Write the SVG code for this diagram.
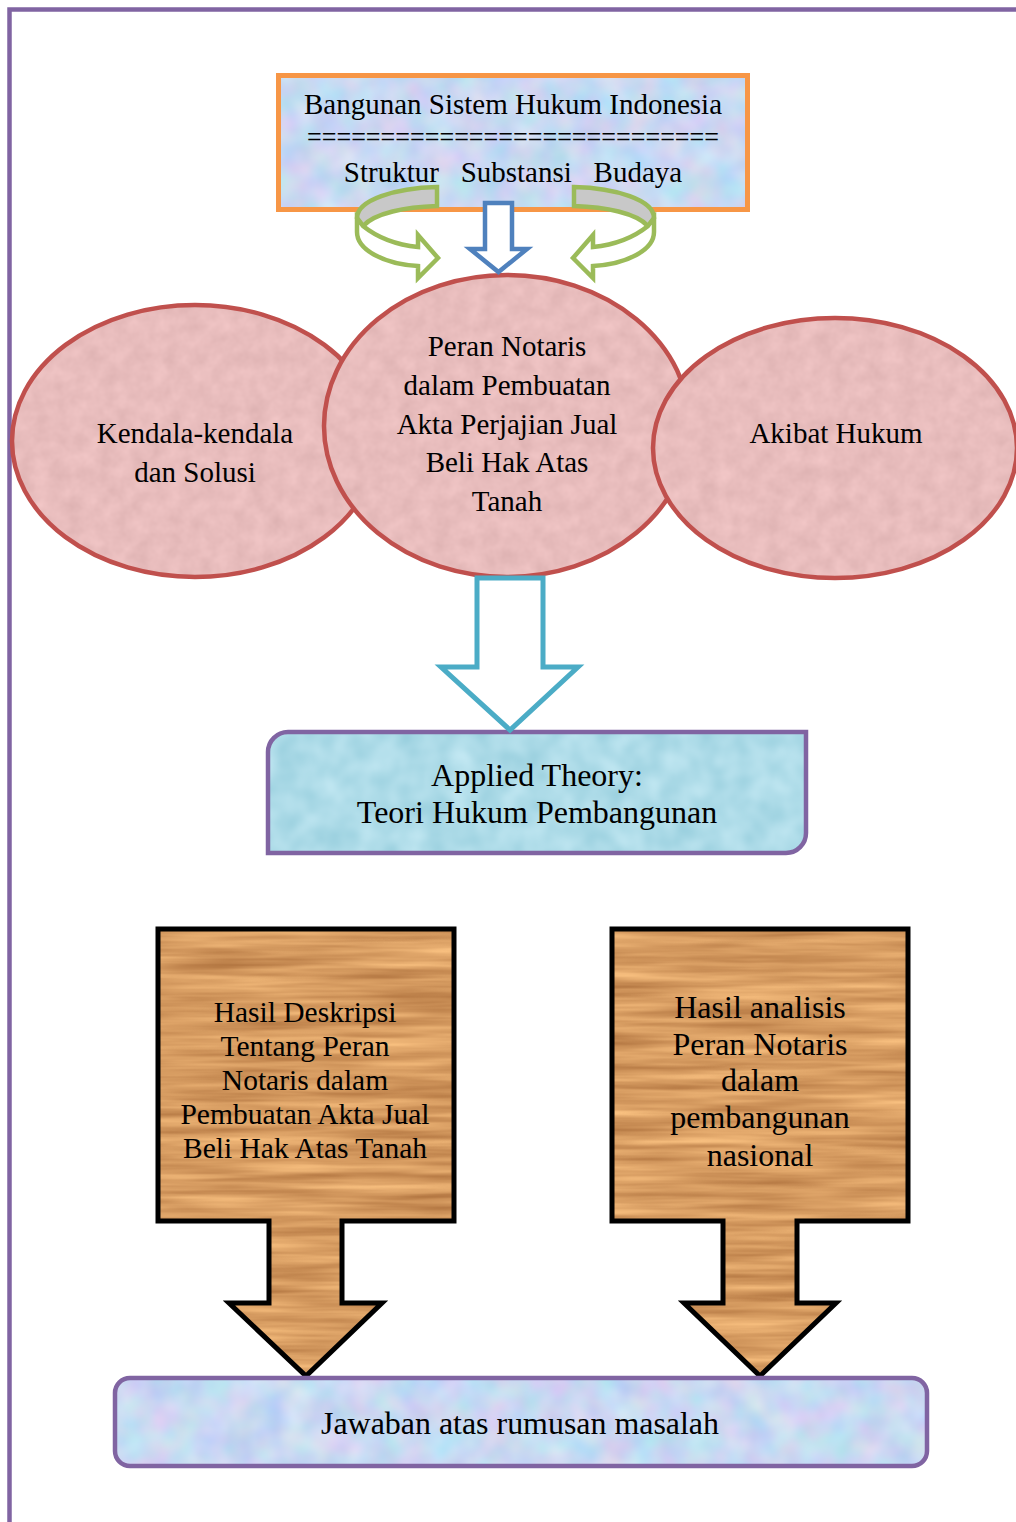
<svg xmlns="http://www.w3.org/2000/svg" width="1016" height="1522" viewBox="0 0 1016 1522">
<defs>
<style>
text{font-family:"Liberation Serif","Times New Roman",serif;fill:#000;text-anchor:middle}
.pink{stroke:#C0504D;stroke-width:4.5}
.wood{stroke:#000;stroke-width:5;stroke-linejoin:miter}
.purple{stroke:#8064A2;stroke-width:4.5;fill:none}
.green{stroke:#9BBB59;stroke-width:4.5;stroke-linejoin:miter}
</style>
<filter id="woodTex" x="0" y="0" width="1" height="1" color-interpolation-filters="sRGB">
<feTurbulence type="fractalNoise" baseFrequency="0.006 0.11" numOctaves="3" seed="4"/>
<feColorMatrix type="matrix" values="0.36 0 0 0 0.66  0.38 0 0 0 0.42  0.32 0 0 0 0.22  0 0 0 0 1"/>
<feComposite in2="SourceGraphic" operator="in"/>
</filter>
<filter id="pinkTex" x="0" y="0" width="1" height="1" color-interpolation-filters="sRGB">
<feTurbulence type="fractalNoise" baseFrequency="0.06" numOctaves="3" seed="2"/>
<feColorMatrix type="matrix" values="0.09 0 0 0 0.865  0.09 0 0 0 0.695  0.09 0 0 0 0.695  0 0 0 0 1"/>
<feComposite in2="SourceGraphic" operator="in"/>
</filter>
<filter id="blueTex" x="0" y="0" width="1" height="1" color-interpolation-filters="sRGB">
<feTurbulence type="fractalNoise" baseFrequency="0.035" numOctaves="2" seed="7"/>
<feColorMatrix type="matrix" values="0.25 0 0 0 0.66  0 0.16 0 0 0.77  0 0 0.08 0 0.91  0 0 0 0 1"/>
<feComposite in2="SourceGraphic" operator="in"/>
</filter>
<filter id="waterTex" x="0" y="0" width="1" height="1" color-interpolation-filters="sRGB">
<feTurbulence type="fractalNoise" baseFrequency="0.04" numOctaves="2" seed="9"/>
<feColorMatrix type="matrix" values="0.2 0 0 0 0.58  0.12 0 0 0 0.80  0.1 0 0 0 0.86  0 0 0 0 1"/>
<feComposite in2="SourceGraphic" operator="in"/>
</filter>
</defs>

<path d="M9.5,1522 V9.5 H1016" class="purple" stroke-width="5"/>

<g id="node-bangunan">
<rect x="278.5" y="75.5" width="469" height="134" fill="#C8D8F2" filter="url(#blueTex)"/>
<rect x="278.5" y="75.5" width="469" height="134" fill="none" stroke="#F79646" stroke-width="5"/>
<text x="513" y="114" font-size="29">Bangunan Sistem Hukum Indonesia</text>
<text x="513" y="147" font-size="29" textLength="412" lengthAdjust="spacingAndGlyphs">============================</text>
<text x="513" y="182" font-size="29" xml:space="preserve">Struktur   Substansi   Budaya</text>
</g>

<g id="node-kendala">
<ellipse cx="195" cy="441" rx="183" ry="136" fill="#E8BABA" filter="url(#pinkTex)"/>
<ellipse cx="195" cy="441" rx="183" ry="136" fill="none" class="pink"/>
<text x="195" y="443" font-size="29">Kendala-kendala</text>
<text x="195" y="482" font-size="29">dan Solusi</text>
</g>

<g id="node-peran">
<ellipse cx="507" cy="426" rx="183" ry="151" fill="#E8BABA" filter="url(#pinkTex)"/>
<ellipse cx="507" cy="426" rx="183" ry="151" fill="none" class="pink"/>
<text x="507" y="356" font-size="29">Peran Notaris</text>
<text x="507" y="395" font-size="29">dalam Pembuatan</text>
<text x="507" y="434" font-size="29">Akta Perjajian Jual</text>
<text x="507" y="472" font-size="29">Beli Hak Atas</text>
<text x="507" y="511" font-size="29">Tanah</text>
</g>

<g id="node-akibat">
<ellipse cx="835" cy="448" rx="182" ry="130" fill="#E8BABA" filter="url(#pinkTex)"/>
<ellipse cx="835" cy="448" rx="182" ry="130" fill="none" class="pink"/>
<text x="836" y="443" font-size="29">Akibat Hukum</text>
</g>

<g id="node-applied">
<path d="M288,732 H806 V833 A20,20 0 0 1 786,853 H268 V752 A20,20 0 0 1 288,732 Z" fill="#AADCE8" filter="url(#waterTex)"/>
<path d="M288,732 H806 V833 A20,20 0 0 1 786,853 H268 V752 A20,20 0 0 1 288,732 Z" class="purple"/>
<text x="537" y="786" font-size="32">Applied Theory:</text>
<text x="537" y="823" font-size="32">Teori Hukum Pembangunan</text>
</g>

<g id="node-deskripsi">
<path d="M158,929 H454 V1221 H342 V1303 H382 L306,1376 L229,1303 H269 V1221 H158 Z" fill="#D49A62" filter="url(#woodTex)"/>
<path d="M158,929 H454 V1221 H342 V1303 H382 L306,1376 L229,1303 H269 V1221 H158 Z" fill="none" class="wood"/>
<text x="305" y="1022" font-size="29.5">Hasil Deskripsi</text>
<text x="305" y="1056" font-size="29.5">Tentang Peran</text>
<text x="305" y="1090" font-size="29.5">Notaris dalam</text>
<text x="305" y="1124" font-size="29.5">Pembuatan Akta Jual</text>
<text x="305" y="1158" font-size="29.5">Beli Hak Atas Tanah</text>
</g>

<g id="node-analisis">
<path d="M612,929 H908 V1221 H797 V1303 H836 L760,1376 L684,1303 H723 V1221 H612 Z" fill="#D49A62" filter="url(#woodTex)"/>
<path d="M612,929 H908 V1221 H797 V1303 H836 L760,1376 L684,1303 H723 V1221 H612 Z" fill="none" class="wood"/>
<text x="760" y="1018" font-size="32">Hasil analisis</text>
<text x="760" y="1055" font-size="32">Peran Notaris</text>
<text x="760" y="1091" font-size="32">dalam</text>
<text x="760" y="1128" font-size="32">pembangunan</text>
<text x="760" y="1166" font-size="32">nasional</text>
</g>

<g id="node-jawaban">
<rect x="115" y="1378" width="812" height="88" rx="15" fill="#C8D0F4" filter="url(#blueTex)"/>
<rect x="115" y="1378" width="812" height="88" rx="15" class="purple"/>
<text x="520" y="1434" font-size="32" textLength="398" lengthAdjust="spacingAndGlyphs">Jawaban atas rumusan masalah</text>
</g>

<g id="connectors">
<g id="curve-left">
<path d="M437,187 C395,188 357,200 357,218 L363,226 C375,213 405,207 437,206 Z" fill="#C8C8C8" class="green"/>
<path d="M357,218 L363,226 C378,238 398,245 418,247 V235 L438,258 L418,278 V266 C384,264 357,250 357,232 Z" fill="#FFFFFF" class="green"/>
</g>
<g id="curve-right" transform="translate(1011,0) scale(-1,1)">
<path d="M437,187 C395,188 357,200 357,218 L363,226 C375,213 405,207 437,206 Z" fill="#C8C8C8" class="green"/>
<path d="M357,218 L363,226 C378,238 398,245 418,247 V235 L438,258 L418,278 V266 C384,264 357,250 357,232 Z" fill="#FFFFFF" class="green"/>
</g>
<path id="arrow-substansi" d="M485,203 H512 V249 H527 L498.5,272 L470,249 H485 Z" fill="#FFFFFF" stroke="#4F81BD" stroke-width="4.5"/>
<path id="arrow-applied" d="M477,578 H543 V667 H578 L510,730 L441,667 H477 Z" fill="#FFFFFF" stroke="#4BACC6" stroke-width="5"/>
</g>
</svg>
